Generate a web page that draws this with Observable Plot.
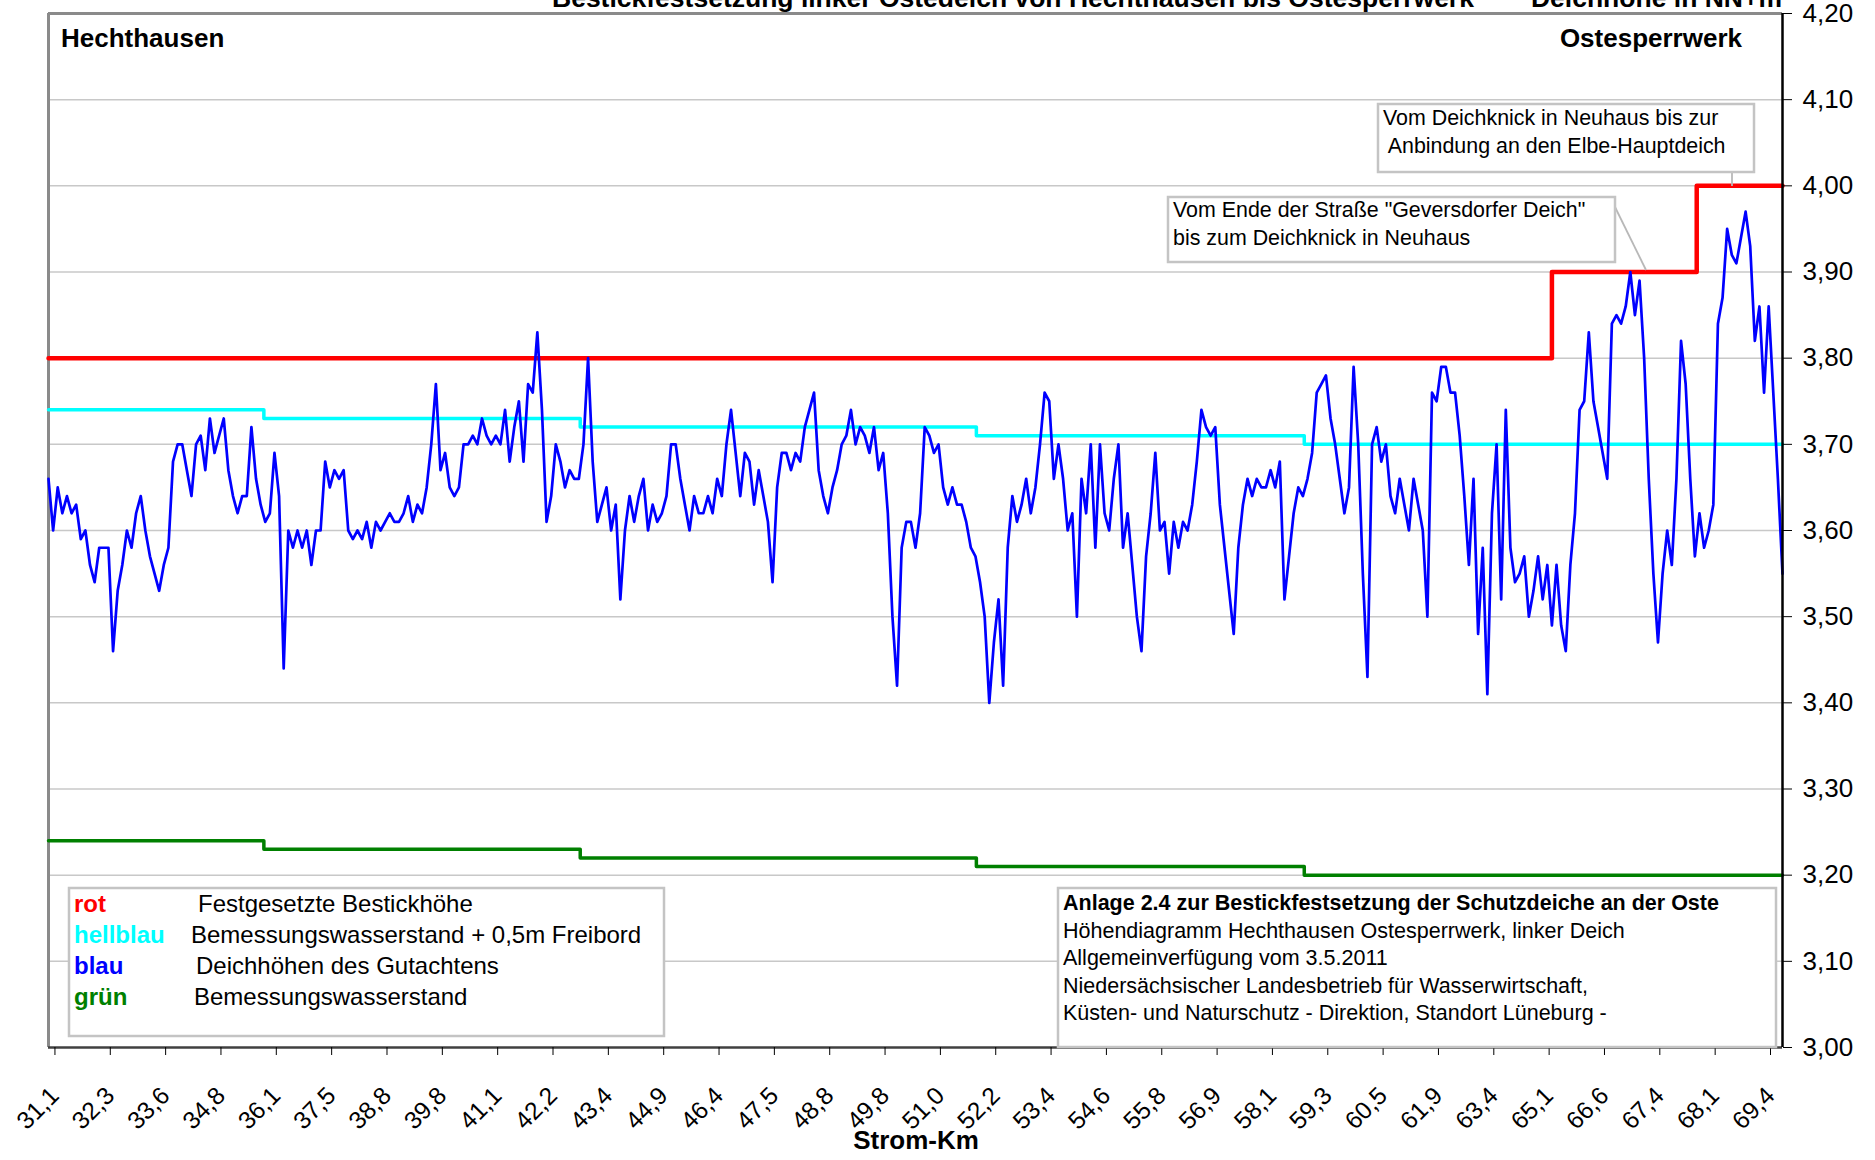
<!DOCTYPE html>
<html><head><meta charset="utf-8">
<script src="https://cdn.jsdelivr.net/npm/d3@7"></script>
<script src="https://cdn.jsdelivr.net/npm/@observablehq/plot@0.6"></script>
<style>
body{margin:0;background:#fff;}
#chart{position:relative;width:1875px;height:1160px;overflow:hidden;background:#fff;}
</style></head><body><div id="chart"></div>
<script>
// ---- data ----
const kmLabels = ["31,1","32,3","33,6","34,8","36,1","37,5","38,8","39,8","41,1","42,2","43,4","44,9","46,4","47,5","48,8","49,8","51,0","52,2","53,4","54,6","55,8","56,9","58,1","59,3","60,5","61,9","63,4","65,1","66,6","67,4","68,1","69,4"];
const pointsPerLabel = 12;
const firstLabelIndex = 4;
// Deichhöhen des Gutachtens (NN+m), equally spaced stations
const deichhoehe = [
3.66,3.60,3.65,3.62,
3.64,3.62,3.63,3.59,3.60,3.56,3.54,3.58,3.58,3.58,3.46,3.53,
3.56,3.60,3.58,3.62,3.64,3.60,3.57,3.55,3.53,3.56,3.58,3.68,
3.70,3.70,3.67,3.64,3.70,3.71,3.67,3.73,3.69,3.71,3.73,3.67,
3.64,3.62,3.64,3.64,3.72,3.66,3.63,3.61,3.62,3.69,3.64,3.44,
3.60,3.58,3.60,3.58,3.60,3.56,3.60,3.60,3.68,3.65,3.67,3.66,
3.67,3.60,3.59,3.60,3.59,3.61,3.58,3.61,3.60,3.61,3.62,3.61,
3.61,3.62,3.64,3.61,3.63,3.62,3.65,3.70,3.77,3.67,3.69,3.65,
3.64,3.65,3.70,3.70,3.71,3.70,3.73,3.71,3.70,3.71,3.70,3.74,
3.68,3.72,3.75,3.68,3.77,3.76,3.83,3.74,3.61,3.64,3.70,3.68,
3.65,3.67,3.66,3.66,3.70,3.80,3.68,3.61,3.63,3.65,3.60,3.63,
3.52,3.60,3.64,3.61,3.64,3.66,3.60,3.63,3.61,3.62,3.64,3.70,
3.70,3.66,3.63,3.60,3.64,3.62,3.62,3.64,3.62,3.66,3.64,3.70,
3.74,3.69,3.64,3.69,3.68,3.63,3.67,3.64,3.61,3.54,3.65,3.69,
3.69,3.67,3.69,3.68,3.72,3.74,3.76,3.67,3.64,3.62,3.65,3.67,
3.70,3.71,3.74,3.70,3.72,3.71,3.69,3.72,3.67,3.69,3.62,3.50,
3.42,3.58,3.61,3.61,3.58,3.62,3.72,3.71,3.69,3.70,3.65,3.63,
3.65,3.63,3.63,3.61,3.58,3.57,3.54,3.50,3.40,3.47,3.52,3.42,
3.58,3.64,3.61,3.63,3.66,3.62,3.65,3.70,3.76,3.75,3.66,3.70,
3.66,3.60,3.62,3.50,3.66,3.62,3.70,3.58,3.70,3.62,3.60,3.66,
3.70,3.58,3.62,3.56,3.50,3.46,3.57,3.62,3.69,3.60,3.61,3.55,
3.61,3.58,3.61,3.60,3.63,3.68,3.74,3.72,3.71,3.72,3.63,3.58,
3.53,3.48,3.58,3.63,3.66,3.64,3.66,3.65,3.65,3.67,3.65,3.68,
3.52,3.57,3.62,3.65,3.64,3.66,3.69,3.76,3.77,3.78,3.73,3.70,
3.66,3.62,3.65,3.79,3.70,3.55,3.43,3.70,3.72,3.68,3.70,3.64,
3.62,3.66,3.63,3.60,3.66,3.63,3.60,3.50,3.76,3.75,3.79,3.79,
3.76,3.76,3.71,3.64,3.56,3.66,3.48,3.58,3.41,3.62,3.70,3.52,
3.74,3.58,3.54,3.55,3.57,3.50,3.53,3.57,3.52,3.56,3.49,3.56,
3.49,3.46,3.56,3.62,3.74,3.75,3.83,3.75,3.72,3.69,3.66,3.84,
3.85,3.84,3.86,3.90,3.85,3.89,3.80,3.66,3.55,3.47,3.55,3.60,
3.56,3.66,3.82,3.77,3.66,3.57,3.62,3.58,3.60,3.63,3.84,3.87,
3.95,3.92,3.91,3.94,3.97,3.93,3.82,3.86,3.76,3.86,3.76,3.66,
3.55
];
const bestickLevels = [3.80, 3.90, 4.00];
const bestickBreaks = [326.0, 357.4];
const freibordLevels = [3.74, 3.73, 3.72, 3.71, 3.70];
const wasserLevels = [3.24, 3.23, 3.22, 3.21, 3.20];
const wasserBreaks = [46.7, 115.3, 201.2, 272.3];
const yTicks = [3.0,3.1,3.2,3.3,3.4,3.5,3.6,3.7,3.8,3.9,4.0,4.1,4.2];

const legendRows = [
  {key:"rot", color:"#ff0000", text:"Festgesetzte Bestickhöhe", tx:198},
  {key:"hellblau", color:"#00ffff", text:"Bemessungswasserstand + 0,5m Freibord", tx:191},
  {key:"blau", color:"#0000ff", text:"Deichhöhen des Gutachtens", tx:196},
  {key:"grün", color:"#008000", text:"Bemessungswasserstand", tx:194}
];
const infoLines = [
  "Anlage 2.4 zur Bestickfestsetzung der Schutzdeiche an der Oste",
  "Höhendiagramm Hechthausen Ostesperrwerk, linker Deich",
  "Allgemeinverfügung vom 3.5.2011",
  "Niedersächsischer Landesbetrieb für Wasserwirtschaft,",
  "Küsten- und Naturschutz - Direktion, Standort Lüneburg -"
];

// ---- derived tables ----
const N = deichhoehe.length;
const xMax = N - 1;
const blue = deichhoehe.map((v, i) => ({x: i, y: v}));
const tickPos = kmLabels.map((_, k) => firstLabelIndex + k * pointsPerLabel);
function stepSeries(levels, breaks) {
  const pts = [{x: 0, y: levels[0]}];
  breaks.forEach((b, i) => pts.push({x: b, y: levels[i + 1]}));
  pts.push({x: xMax, y: levels[levels.length - 1]});
  return pts;
}
const red = stepSeries(bestickLevels, bestickBreaks);
const cyan = stepSeries(freibordLevels, wasserBreaks);
const green = stepSeries(wasserLevels, wasserBreaks);

const font = "'Liberation Sans', Arial, Helvetica, sans-serif";

const plot = Plot.plot({
  width: 1875, height: 1160,
  marginLeft: 48, marginRight: 93, marginTop: 13, marginBottom: 113,
  style: {fontFamily: font, fontSize: "26px", background: "white", color: "#000", overflow: "visible"},
  x: {domain: [0, xMax]},
  y: {domain: [3.0, 4.2]},
  marks: [
    Plot.gridY(yTicks.slice(1, -1), {stroke: "#c8c8c8", strokeOpacity: 1, strokeWidth: 1.5}),
    Plot.ruleX([0], {stroke: "#8a8a8a", strokeWidth: 3}),
    Plot.ruleY([4.2], {stroke: "#8a8a8a", strokeWidth: 3}),
    Plot.line(green, {x: "x", y: "y", curve: "step-after", stroke: "#008000", strokeWidth: 3.5}),
    Plot.line(cyan, {x: "x", y: "y", curve: "step-after", stroke: "#00ffff", strokeWidth: 3.5}),
    Plot.line(red, {x: "x", y: "y", curve: "step-after", stroke: "#ff0000", strokeWidth: 4.5}),
    Plot.line(blue, {x: "x", y: "y", stroke: "#0000ff", strokeWidth: 2.7, strokeLinejoin: "round"}),
    Plot.ruleY([3.0], {stroke: "#404040", strokeWidth: 2.5}),
    Plot.ruleX([xMax], {stroke: "#000", strokeWidth: 2.5}),
    Plot.axisY(yTicks, {anchor: "right", tickSize: 9, tickPadding: 11, fontSize: 26,
      tickFormat: d => d.toFixed(2).replace(".", ","), label: null}),
    Plot.axisX(tickPos, {anchor: "bottom", tickSize: 8, tickPadding: 36, tickRotate: -45, dx: -12, fontSize: 24.5,
      tickFormat: d => kmLabels[Math.round((d - firstLabelIndex) / pointsPerLabel)], label: null})
  ]
});
document.getElementById("chart").appendChild(plot);

const svg = d3.select(plot);
function txt(x, y, s, o = {}) {
  return svg.append("text").attr("x", x).attr("y", y)
    .attr("font-family", font).attr("font-size", o.size || 24)
    .attr("font-weight", o.weight || "normal").attr("fill", o.fill || "#000")
    .attr("text-anchor", o.anchor || "start").style("white-space", "pre").text(s);
}
function box(x, y, w, h) {
  svg.append("rect").attr("x", x).attr("y", y).attr("width", w).attr("height", h)
    .attr("fill", "white").attr("stroke", "#c4c4c4").attr("stroke-width", 2.5);
}
function seg(x1, y1, x2, y2) {
  svg.append("line").attr("x1", x1).attr("y1", y1).attr("x2", x2).attr("y2", y2)
    .attr("stroke", "#b8b8b8").attr("stroke-width", 1.8);
}

// title (partially cut at top in the original)
txt(552, 7, "Bestickfestsetzung linker Ostedeich von Hechthausen bis Ostesperrwerk", {size: 26.5, weight: "bold"});
txt(1782, 7, "Deichhöhe in NN+m", {size: 26.5, weight: "bold", anchor: "end"});
txt(61, 47, "Hechthausen", {size: 26, weight: "bold"});
txt(1742, 47, "Ostesperrwerk", {size: 26, weight: "bold", anchor: "end"});
txt(916, 1149, "Strom-Km", {size: 26, weight: "bold", anchor: "middle"});

// annotations
seg(1732, 172, 1732, 186);
box(1378, 104, 376, 68);
txt(1383, 125, "Vom Deichknick in Neuhaus bis zur", {size: 21.4});
txt(1383, 153, " Anbindung an den Elbe-Hauptdeich", {size: 21.4});
seg(1615, 207, 1646, 270);
box(1168, 197, 447, 65);
txt(1173, 217, "Vom Ende der Straße \"Geversdorfer Deich\"", {size: 21.4});
txt(1173, 245, "bis zum Deichknick in Neuhaus", {size: 21.4});

// legend box
box(69, 888, 595, 148);
legendRows.forEach((r, i) => {
  const y = 912 + i * 31;
  txt(74, y, r.key, {size: 24, weight: "bold", fill: r.color});
  txt(r.tx, y, r.text, {size: 24});
});

// info box
box(1058, 888, 718, 159);
infoLines.forEach((s, i) => {
  txt(1063, 910 + i * 27.5, s, {size: 21.5, weight: i === 0 ? "bold" : "normal"});
});
</script></body></html>
